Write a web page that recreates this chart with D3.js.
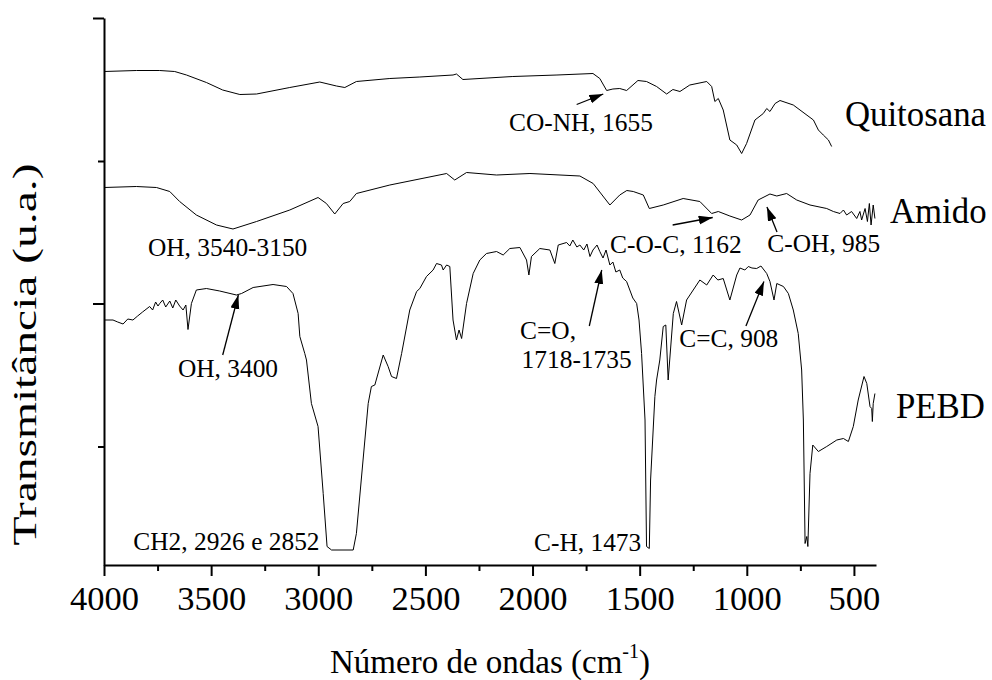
<!DOCTYPE html>
<html><head><meta charset="utf-8">
<script src="https://cdn.jsdelivr.net/npm/d3@7"></script>
<style>
body{margin:0;background:#fff}
svg text{font-family:"Liberation Serif",serif !important;fill:#000}
</style>
</head><body>
<svg id="chart" width="992" height="680"></svg>
<script>
// ---------- data (wavenumber cm-1, transmittance a.u.) ----------
const quitosana = [[4000,98.7],[3849,98.9],[3740,98.9],[3670,98.7],[3615,98.0],[3522,96.5],[3446,95.0],[3366,94.1],[3288,94.2],[3133,95.5],[2993,96.6],[2915,95.8],[2876,95.5],[2822,96.7],[2666,97.3],[2526,97.6],[2371,98.0],[2355,98.2],[2325,97.1],[2092,97.7],[1886,98.0],[1718,98.3],[1686,97.3],[1654,94.9],[1625,95.2],[1593,95.3],[1561,94.9],[1508,96.9],[1468,96.7],[1421,95.7],[1374,94.2],[1345,95.1],[1312,94.7],[1266,96.0],[1187,96.7],[1164,95.7],[1149,92.7],[1133,93.3],[1110,91.0],[1079,85.0],[1047,84.0],[1024,82.3],[1001,84.3],[962,89.0],[923,90.3],[907,91.3],[892,90.7],[868,92.3],[845,92.9],[783,92.0],[689,89.0],[666,87.0],[643,86.0],[619,85.0],[604,83.7]];

const amido = [[4000,75.5],[3849,75.7],[3755,75.5],[3693,74.7],[3647,72.7],[3569,70.0],[3475,68.0],[3398,67.2],[3288,68.7],[3133,71.0],[3001,73.5],[2962,72.3],[2923,70.2],[2884,72.3],[2853,72.7],[2822,74.3],[2666,76.0],[2401,78.3],[2363,77.0],[2308,78.5],[2168,78.0],[2012,78.3],[1779,77.8],[1717,76.3],[1639,72.0],[1593,74.0],[1560,74.9],[1530,74.7],[1483,74.0],[1455,71.3],[1390,72.0],[1297,73.3],[1219,72.7],[1164,70.3],[1133,70.7],[1079,69.8],[1024,69.0],[985,70.0],[947,73.0],[892,74.2],[860,73.8],[814,74.3],[767,73.0],[705,72.0],[627,71.3],[596,70.7],[565,70.3],[549,71.0],[534,70.0],[511,70.7],[487,69.3],[472,70.7],[464,69.0],[448,71.3],[437,68.7],[428,72.3],[420,68.0],[410,72.0],[402,69.3]];

const pebd = [[4000,49.0],[3958,49.0],[3936,48.6],[3911,48.2],[3889,49.2],[3865,49.0],[3843,49.8],[3820,50.6],[3787,51.7],[3773,51.0],[3759,52.6],[3748,51.8],[3740,52.3],[3726,53.0],[3712,51.6],[3693,52.8],[3679,51.4],[3665,53.0],[3647,51.8],[3631,51.0],[3618,52.0],[3608,47.1],[3592,52.3],[3569,55.0],[3522,55.3],[3460,54.8],[3382,54.0],[3358,54.3],[3304,55.5],[3211,56.1],[3148,55.7],[3118,54.3],[3094,50.3],[3086,45.7],[3063,42.3],[3055,41.0],[3032,32.3],[3001,27.7],[2977,14.3],[2959,3.7],[2938,3.0],[2837,3.0],[2822,6.3],[2791,21.0],[2767,32.3],[2752,35.7],[2736,36.0],[2697,42.0],[2674,39.7],[2658,37.7],[2635,37.3],[2611,42.3],[2573,51.0],[2541,54.7],[2526,55.3],[2495,57.7],[2464,59.0],[2448,60.3],[2425,60.0],[2417,59.0],[2401,60.0],[2386,59.7],[2371,49.0],[2355,45.0],[2343,47.0],[2331,45.3],[2308,52.3],[2277,58.3],[2246,61.0],[2215,62.3],[2168,62.7],[2137,62.0],[2106,63.3],[2059,63.5],[2028,61.0],[2017,58.0],[2005,61.7],[1966,63.3],[1919,63.0],[1896,60.3],[1880,64.0],[1841,64.5],[1826,63.8],[1812,65.0],[1793,63.6],[1779,64.0],[1761,63.0],[1746,64.2],[1732,61.7],[1718,63.0],[1699,64.0],[1686,62.7],[1671,61.4],[1657,63.0],[1639,60.0],[1625,60.6],[1611,58.6],[1593,59.0],[1579,57.4],[1561,56.7],[1546,55.0],[1532,53.4],[1514,52.3],[1503,49.0],[1491,42.3],[1475,29.0],[1468,3.7],[1455,3.3],[1449,17.0],[1429,33.7],[1421,37.0],[1406,41.0],[1390,47.7],[1378,48.0],[1367,37.0],[1343,50.3],[1328,52.7],[1304,48.0],[1281,53.0],[1250,55.0],[1219,57.0],[1187,56.0],[1157,58.0],[1135,57.0],[1110,57.3],[1079,53.0],[1047,58.0],[1032,59.4],[1009,59.0],[993,59.7],[976,59.4],[954,59.3],[934,59.8],[907,58.3],[892,56.7],[873,53.0],[860,56.3],[829,55.7],[806,54.3],[783,51.0],[760,46.3],[744,39.0],[736,29.0],[728,4.3],[720,5.7],[715,3.7],[705,18.3],[692,24.0],[666,22.7],[627,23.7],[580,25.0],[549,25.3],[526,24.7],[503,27.7],[480,33.0],[453,37.7],[440,36.3],[425,31.7],[417,31.3],[414,28.7],[410,32.3],[402,34.3]];

const xMajorTicks = [4000,3500,3000,2500,2000,1500,1000,500];
const xMinorTicks = [3750,3250,2750,2250,1750,1250,750];
const yMajorTicks = [52.3,109.4];
const yMinorTicks = [23.7,80.8];

const seriesLabels = [
  {text:"Quitosana", wn:542, v:87.8},
  {text:"Amido", wn:332, v:68.4},
  {text:"PEBD", wn:304, v:29.4}
];
const annotations = [
  {text:"CO-NH, 1655", wn:2110, v:86.8},
  {text:"OH, 3540-3150", wn:3795, v:61.8},
  {text:"C-O-C, 1162", wn:1638, v:62.4},
  {text:"C-OH, 985", wn:904, v:62.6},
  {text:"OH, 3400", wn:3655, v:37.6},
  {text:"C=O,", wn:2058, v:45.2},
  {text:"1718-1735", wn:2051, v:39.4},
  {text:"C=C, 908", wn:1315, v:43.6},
  {text:"CH2, 2926 e 2852", wn:3863, v:3.0},
  {text:"C-H, 1473", wn:1993, v:2.9}
];
const arrows = [
  {from:[1794,92.1], to:[1670,94.2]},
  {from:[1346,68.0], to:[1159,69.5]},
  {from:[859,66.6], to:[906,71.6]},
  {from:[3446,42.0], to:[3373,54.0]},
  {from:[1735,47.8], to:[1677,59.0]},
  {from:[1004,47.8], to:[920,56.7]}
];

// ---------- chart ----------
const FONT = '"Liberation Serif", serif';
const svg = d3.select("#chart");
const x = d3.scaleLinear().domain([4000,397]).range([104,876]);
const y = d3.scaleLinear().domain([0,109.4]).range([565,18]);

const defs = svg.append("defs");
defs.append("marker").attr("id","ah")
  .attr("markerUnits","userSpaceOnUse")
  .attr("markerWidth",16).attr("markerHeight",10)
  .attr("refX",14).attr("refY",4.5).attr("orient","auto")
  .append("path").attr("d","M0,0 L14,4.5 L0,9 Z").attr("fill","#000");

// axes
const gx = svg.append("g").attr("transform",`translate(0,${y(0)})`);
gx.call(d3.axisBottom(x).tickValues(xMajorTicks).tickSize(11).tickSizeOuter(0).tickFormat(d3.format("d")));
gx.append("g").call(d3.axisBottom(x).tickValues(xMinorTicks).tickSize(6).tickSizeOuter(0).tickFormat(""))
  .select(".domain").remove();
gx.attr("font-family",FONT);
gx.selectAll("path.domain").attr("stroke-width",2);
gx.selectAll(".tick line").attr("stroke-width",2);
gx.selectAll(".tick text").attr("y",45).attr("dy",0)
  .style("font-size","34.5px").style("font-family",FONT).attr("fill","#000");

const gy = svg.append("g").attr("transform",`translate(${x(4000)},0)`);
gy.call(d3.axisLeft(y).tickValues(yMajorTicks).tickSize(11).tickSizeOuter(0).tickFormat(""));
gy.append("g").call(d3.axisLeft(y).tickValues(yMinorTicks).tickSize(6).tickSizeOuter(0).tickFormat(""))
  .select(".domain").remove();
gy.selectAll("path.domain").attr("stroke-width",2);
gy.selectAll(".tick line").attr("stroke-width",2);

// spectra
const line = d3.line().x(d=>x(d[0])).y(d=>y(d[1]));
[quitosana, amido, pebd].forEach(s=>{
  svg.append("path").datum(s).attr("d",line)
    .attr("fill","none").attr("stroke","#000").attr("stroke-width",1)
    .attr("stroke-linejoin","round");
});

// series labels
svg.selectAll("text.series").data(seriesLabels).enter().append("text")
  .attr("class","series").attr("x",d=>x(d.wn)).attr("y",d=>y(d.v))
  .style("font-family",FONT).style("font-size","34.8px").text(d=>d.text);

// annotations
svg.selectAll("text.ann").data(annotations).enter().append("text")
  .attr("class","ann").attr("x",d=>x(d.wn)).attr("y",d=>y(d.v))
  .style("font-family",FONT).style("font-size","25.4px").text(d=>d.text);

svg.selectAll("line.arrow").data(arrows).enter().append("line")
  .attr("class","arrow")
  .attr("x1",d=>x(d.from[0])).attr("y1",d=>y(d.from[1]))
  .attr("x2",d=>x(d.to[0])).attr("y2",d=>y(d.to[1]))
  .attr("stroke","#000").attr("stroke-width",1.3).attr("marker-end","url(#ah)");

// axis titles
const xt = svg.append("text").attr("x",(x(4000)+x(397))/2).attr("y",673)
  .attr("text-anchor","middle").style("font-family",FONT).style("font-size","33px");
xt.append("tspan").text("Número de ondas (cm");
xt.append("tspan").style("font-size","20px").attr("dy",-15).text("-1");
xt.append("tspan").attr("dy",15).text(")");

svg.append("text").attr("transform",`translate(36,${(y(0)+y(109.4))/2+63}) rotate(-90)`)
  .attr("text-anchor","middle").style("font-family",FONT).style("font-size","34px")
  .attr("textLength",382).attr("lengthAdjust","spacingAndGlyphs")
  .text("Transmitância (u.a.)");
</script>
</body></html>
